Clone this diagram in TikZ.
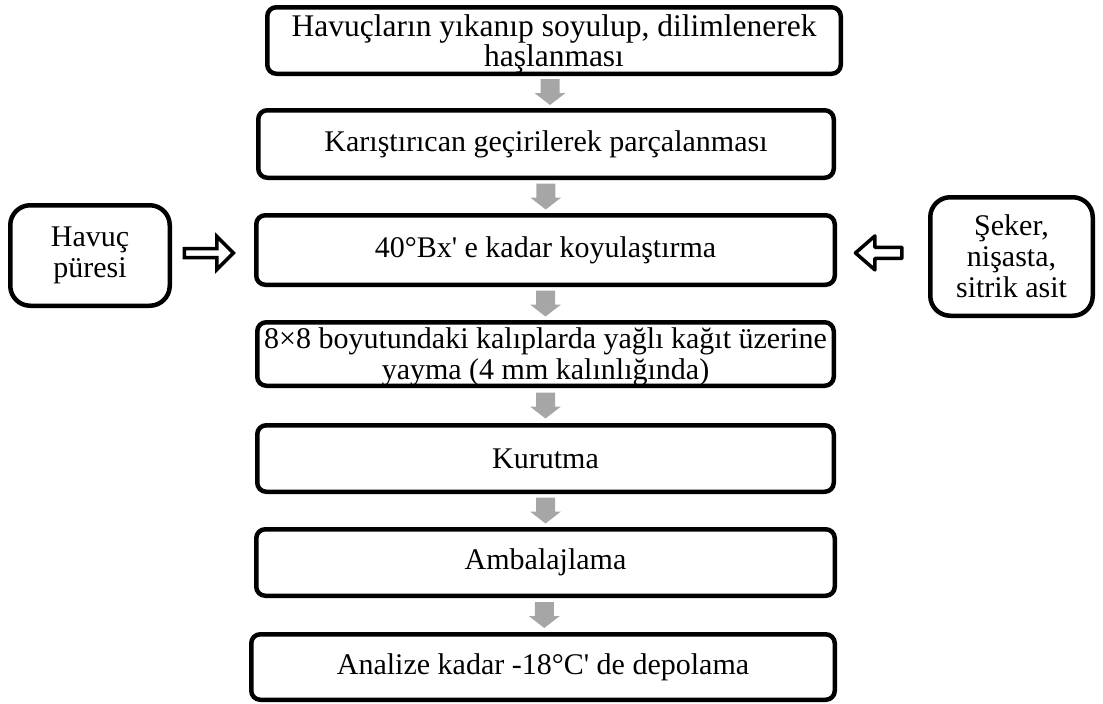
\documentclass[tikz,border=0pt]{standalone}
\usepackage{fontspec}
\setmainfont{Liberation Serif}
\usetikzlibrary{calc}
\begin{document}
\begin{tikzpicture}[x=1pt,y=-1pt,
  stepbox/.style={draw,line width=4.5pt,rounded corners=9pt,inner sep=1pt,align=center,
    font=\fontsize{30}{31}\selectfont,minimum width=#1},
  sidebox/.style={draw,line width=4.5pt,rounded corners=20pt,inner sep=1pt,align=center,
    font=\fontsize{30}{31}\selectfont},
  lowered/.style={text depth=0pt},
  grayarrow/.style={fill=black!35,draw=none},
  hollowarrow/.style={draw,fill=white,line width=3.5pt},
]
\useasboundingbox (0,0) rectangle (1103,704);
\node[stepbox=573.5pt,minimum height=66.5pt,lowered,font=\fontsize{31.5}{30}\selectfont] (b1) at (554,40.5) {Havuçların yıkanıp soyulup, dilimlenerek\\haşlanması};
\node[stepbox=575.5pt,minimum height=67.5pt] (b2) at (546,144) {Karıştırıcan geçirilerek parçalanması};
\node[stepbox=578.5pt,minimum height=69.5pt] (b3) at (545.5,250) {40°Bx\textquotesingle\ e kadar koyulaştırma};
\node[stepbox=576.5pt,minimum height=63.5pt,lowered] (b4) at (545.5,354) {8×8 boyutundaki kalıplarda yağlı kağıt üzerine\\yayma (4 mm kalınlığında)};
\node[stepbox=576.5pt,minimum height=66.5pt] (b5) at (545.5,458.5) {Kurutma};
\node[stepbox=578.5pt,minimum height=66.5pt] (b6) at (545.5,562.5) {Ambalajlama};
\node[stepbox=583.5pt,minimum height=65.5pt] (b7) at (543,667) {Analize kadar -18°C\textquotesingle\ de depolama};
\node[sidebox,minimum width=159.5pt,minimum height=100.5pt] (lb) at (90,255.5) {Havuç\\püresi};
\node[sidebox,lowered,minimum width=162.5pt,minimum height=118.5pt] (rb) at (1011.5,256.5) {Şeker,\\nişasta,\\sitrik asit};
\foreach \a/\b in {b1/b2,b2/b3,b3/b4,b4/b5,b5/b6,b6/b7}{
  \coordinate (m\a) at ($(\a.south)!0.5!(\b.north)$ -| 546.5,0);
  \fill[grayarrow,shift={(m\a)}] (-9.5,-13) -- (9.5,-13) -- (9.5,1) -- (15.5,1) -- (0,13)
     -- (-15.5,1) -- (-9.5,1) -- cycle;
}
\coordinate (la) at ($(lb.east)!0.45!(b3.west)$ |- 0,256);
\coordinate (ra) at ($(rb.west)!0.55!(b3.east)$ |- 0,259);
\draw[hollowarrow,shift={(la)}] (-24.5,-4.5) -- (8,-4.5) -- (8,-16.5) -- (24.5,0) -- (8,16.5)
   -- (8,4.5) -- (-24.5,4.5) -- cycle;
\draw[hollowarrow,line join=round,shift={(ra)}] (24,-5.5) -- (-3,-5.5) -- (-3,-17) -- (-22.5,0)
   -- (-3,17) -- (-3,5.5) -- (24,5.5) -- cycle;
\end{tikzpicture}
\end{document}
